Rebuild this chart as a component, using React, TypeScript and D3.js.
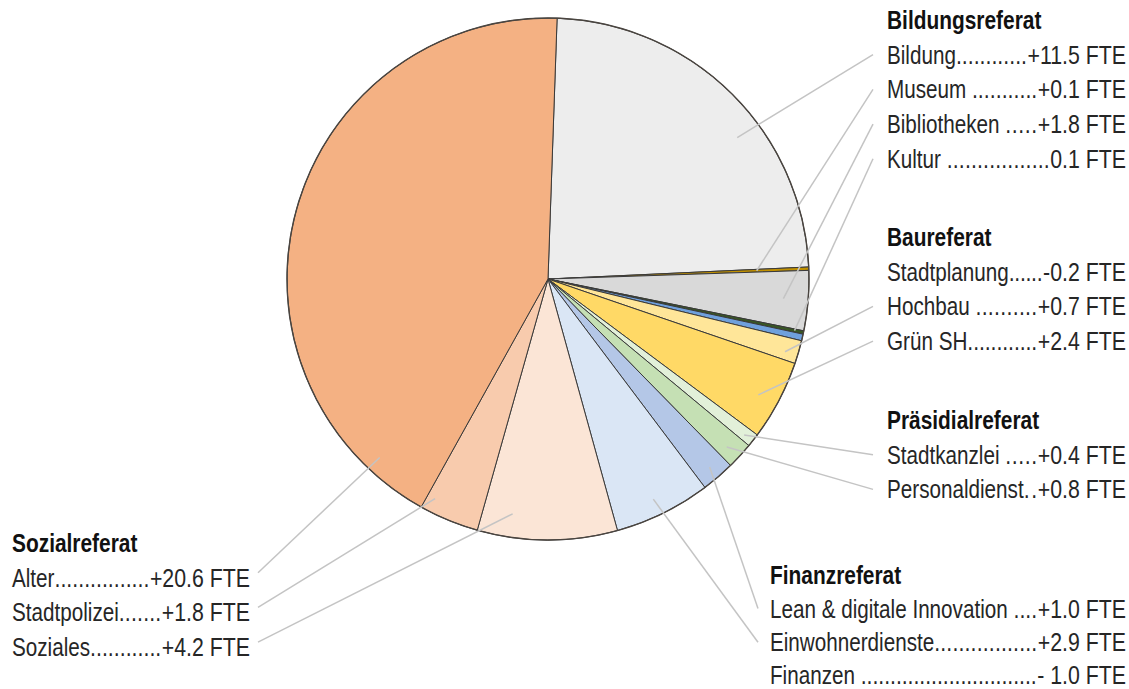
import React, { useEffect, useRef } from "react";
import * as d3 from "d3";

// ---- data ----
const sliceNames = [
  "Bildung", "Museum", "Bibliotheken", "Kultur",
  "Stadtplanung", "Hochbau", "Grün SH",
  "Stadtkanzlei", "Personaldienst",
  "Lean & digitale Innovation", "Einwohnerdienste",
  "Soziales", "Stadtpolizei", "Alter",
];
const sliceValues = [11.5, 0.1, 1.8, 0.1, 0.2, 0.7, 2.4, 0.4, 0.8, 1.0, 2.9, 4.2, 1.8, 20.6];
const sliceColors = [
  "#ededed", "#c09000", "#d9d9d9", "#385723",
  "#6fa0dc", "#ffe699", "#ffd966",
  "#e2f0d9", "#c5e0b4",
  "#b4c7e7", "#dae6f5",
  "#fbe5d6", "#f8cbad", "#f4b183",
];

const groupTitles = ["Bildungsreferat", "Baureferat", "Präsidialreferat", "Finanzreferat", "Sozialreferat"];
const groupRowNames = [
  ["Bildung", "Museum ", "Bibliotheken ", "Kultur "],
  ["Stadtplanung", "Hochbau ", "Grün SH"],
  ["Stadtkanzlei ", "Personaldienst"],
  ["Lean & digitale Innovation ", "Einwohnerdienste", "Finanzen "],
  ["Alter", "Stadtpolizei", "Soziales"],
];
const groupRowValues = [
  ["+11.5 FTE", "+0.1 FTE", "+1.8 FTE", "0.1 FTE"],
  ["-0.2 FTE", "+0.7 FTE", "+2.4 FTE"],
  ["+0.4 FTE", "+0.8 FTE"],
  ["+1.0 FTE", "+2.9 FTE", "- 1.0 FTE"],
  ["+20.6 FTE", "+1.8 FTE", "+4.2 FTE"],
];

// ---- layout ----
const W = 1129, H = 689;
const CX = 548, CY = 279, R = 261;
const START = (2 * Math.PI) / 180;
const SX = 0.82; // narrow font condensation (values, dots)
const SXN = 0.795; // names
const FS = 26;
const blockX = [887, 887, 887, 770, 12];
const blockEnd = [1126, 1126, 1126, 1126, 250];
const blockTop = [20, 237, 420, 575, 543];
const blockStep = [34.7, 34.7, 34.7, 33.6, 34.7];
const blockSide = ["right", "right", "right", "right", "left"];
// leader anchors per slice: [fraction of slice angle, fraction of radius] or null
const leaderAnchors: ([number, number] | null)[] = [
  [0.6, 0.905], [0.5, 0.8], [0.5, 0.905], [0.5, 0.965],
  null, [0.65, 0.95], [0.56, 0.92],
  [0.6, 0.96], [0.6, 0.94],
  [0.5, 0.95], [0.53, 0.935],
  [0.77, 0.91], [0.86, 0.946], [0.093, 0.94],
];

export default function App() {
  const ref = useRef<SVGSVGElement | null>(null);

  useEffect(() => {
    const svg = d3.select(ref.current);
    svg.selectAll("*").remove();

    const pie = d3.pie<number>().sort(null).value((d) => d)
      .startAngle(START).endAngle(START + 2 * Math.PI);
    const arcs = pie(sliceValues);
    const arc = d3.arc<d3.PieArcDatum<number>>().innerRadius(0).outerRadius(R);

    const gPie = svg.append("g").attr("transform", `translate(${CX},${CY})`);
    gPie.selectAll("path.slice")
      .data(arcs)
      .join("path")
      .attr("class", "slice")
      .attr("d", arc as any)
      .attr("fill", (_d, i) => sliceColors[i])
      .attr("stroke", "#3a3a3a")
      .attr("stroke-width", 1)
      .attr("stroke-linejoin", "round");
    gPie.append("circle").attr("r", R).attr("fill", "none")
      .attr("stroke", "#4a4540").attr("stroke-width", 1.4);

    const gLab = svg.append("g")
      .style("font-family", "'Liberation Sans', Arial, sans-serif")
      .style("font-size", `${FS}px`)
      .style("white-space", "pre");

    const rowCenter: Record<string, [number, number]> = {};

    const probe = gLab.append("text").text("..........");
    const dotW = ((probe.node() as SVGTextElement).getComputedTextLength() / 10) * SX;
    probe.remove();

    groupTitles.forEach((title, gi) => {
      const x = blockX[gi];
      const xEnd = blockEnd[gi];
      const top = blockTop[gi];
      gLab.append("text")
        .attr("transform", `translate(${x},${top + 9}) scale(${SX},1)`)
        .attr("font-weight", "bold")
        .attr("font-size", 25.5)
        .attr("fill", "#111")
        .text(title);
      groupRowNames[gi].forEach((name, ri) => {
        const cy = top + blockStep[gi] * (ri + 1);
        const by = Math.min(cy + 9, 684);
        const t1 = gLab.append("text")
          .attr("xml:space", "preserve")
          .attr("transform", `translate(${x},${by}) scale(${SXN},1)`)
          .attr("fill", "#262626").text(name);
        const t2 = gLab.append("text")
          .attr("xml:space", "preserve")
          .attr("transform", `translate(${xEnd},${by}) scale(${SX},1)`)
          .attr("text-anchor", "end")
          .attr("fill", "#262626").text(groupRowValues[gi][ri]);
        const nW = (t1.node() as SVGTextElement).getComputedTextLength() * SXN;
        const vW = (t2.node() as SVGTextElement).getComputedTextLength() * SX;
        const avail = xEnd - vW - (x + nW) - 0.5;
        const n = Math.max(1, Math.round(avail / dotW));
        gLab.append("text")
          .attr("transform", `translate(${x + nW},${by}) scale(${SX},1)`)
          .attr("textLength", avail / SX)
          .attr("lengthAdjust", "spacing")
          .attr("fill", "#262626").text(".".repeat(n));
        const key = name.trim();
        if (blockSide[gi] === "right") {
          rowCenter[key] = [x - (gi === 3 ? 12 : 14), cy];
        } else {
          rowCenter[key] = [xEnd + 8, cy - 5];
        }
      });
    });

    // leader lines
    const gLead = svg.append("g");
    arcs.forEach((a, i) => {
      const anc = leaderAnchors[i];
      const end = rowCenter[sliceNames[i]];
      if (!anc || !end) return;
      const ang = a.startAngle + anc[0] * (a.endAngle - a.startAngle);
      const r = anc[1] * R;
      const x0 = CX + r * Math.sin(ang);
      const y0 = CY - r * Math.cos(ang);
      gLead.append("line")
        .attr("x1", x0).attr("y1", y0)
        .attr("x2", end[0]).attr("y2", end[1])
        .attr("stroke", "#c4c4c4")
        .attr("stroke-width", 1.5);
    });
  }, []);

  return (
    <svg
      ref={ref}
      width={W}
      height={H}
      viewBox={`0 0 ${W} ${H}`}
      style={{ position: "absolute", left: 0, top: 0, background: "#fff", display: "block" }}
    />
  );
}
